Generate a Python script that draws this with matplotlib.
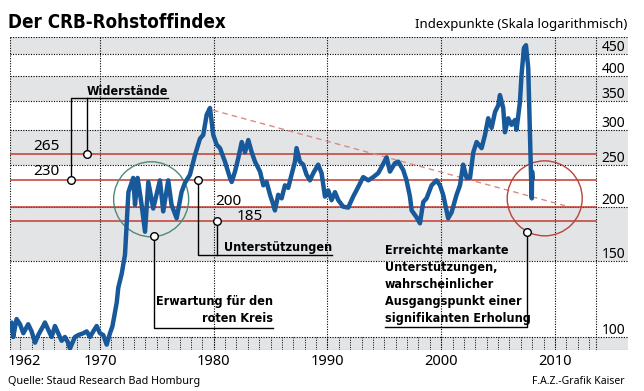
import matplotlib
matplotlib.use("Agg")
import matplotlib.pyplot as plt
import matplotlib.transforms as mtransforms
from matplotlib.patches import Circle

plt.rcParams['font.family'] = ['Noto Sans', 'DejaVu Sans']
plt.rcParams['font.stretch'] = 'condensed'

# CRB-Index (Jahr, Indexpunkte)
jahre = [1962.10, 1962.23, 1962.37, 1962.67, 1962.97, 1963.26, 1963.69, 1963.99,
         1964.29, 1964.57, 1965.01, 1965.16, 1965.45, 1965.75, 1966.04, 1966.33,
         1966.63, 1966.92, 1967.20, 1967.36, 1967.80, 1968.09, 1968.53, 1968.83,
         1969.12, 1969.41, 1969.71, 1970.00, 1970.29, 1970.59, 1970.88, 1971.10,
         1971.47, 1971.61, 1971.91, 1972.20, 1972.35, 1972.50, 1972.92, 1973.08,
         1973.31, 1973.66, 1973.96, 1974.25, 1974.68, 1975.27, 1975.56, 1976.00,
         1976.29, 1976.74, 1977.17, 1977.47, 1977.91, 1978.35, 1978.79, 1979.08,
         1979.38, 1979.67, 1979.96, 1980.26, 1980.55, 1980.99, 1981.43, 1981.58,
         1981.87, 1982.16, 1982.46, 1982.75, 1983.04, 1983.34, 1983.63, 1984.07,
         1984.36, 1984.65, 1984.95, 1985.24, 1985.38, 1985.67, 1985.97, 1986.26,
         1986.55, 1986.84, 1987.14, 1987.28, 1987.58, 1987.87, 1988.16, 1988.46,
         1988.75, 1989.18, 1989.48, 1989.78, 1990.07, 1990.36, 1990.66, 1990.95,
         1991.38, 1991.82, 1992.26, 1992.70, 1993.14, 1993.59, 1994.02, 1994.46,
         1994.76, 1995.20, 1995.49, 1995.93, 1996.22, 1996.66, 1996.95, 1997.25,
         1997.40, 1997.83, 1998.13, 1998.42, 1998.71, 1999.15, 1999.59, 1999.89,
         2000.17, 2000.61, 2000.91, 2001.35, 2001.65, 2001.93, 2002.23, 2002.53,
         2002.82, 2003.11, 2003.55, 2003.85, 2004.13, 2004.43, 2004.73, 2005.02,
         2005.16, 2005.45, 2005.60, 2005.89, 2006.18, 2006.48, 2006.62, 2006.92,
         2007.06, 2007.27, 2007.45, 2007.65, 2007.80, 2007.93, 2007.96, 2007.99,
         2008.03]
crb = [104, 108, 100, 110, 107, 102, 107, 103,
       97, 101, 106, 108, 104, 100, 106, 102,
       98, 100, 97, 94, 100, 101, 102, 103,
       100, 103, 106, 102, 101, 96, 102, 106,
       120, 130, 140, 155, 183, 216, 233, 202,
       233, 202, 175, 228, 198, 230, 195, 230,
       202, 188, 216, 227, 237, 263, 287, 293,
       326, 338, 293, 278, 273, 254, 233, 228,
       241, 259, 282, 267, 285, 267, 254, 241,
       224, 228, 213, 202, 196, 213, 209, 224,
       221, 237, 254, 273, 254, 250, 237, 230,
       239, 250, 239, 211, 218, 207, 216, 207,
       200, 199, 211, 222, 234, 230, 234, 239,
       247, 260, 241, 252, 254, 243, 230, 211,
       196, 189, 183, 205, 209, 224, 230, 224,
       213, 188, 194, 213, 224, 250, 233, 233,
       267, 282, 273, 293, 320, 304, 331, 343,
       362, 338, 297, 320, 309, 317, 301, 349,
       403, 465, 472, 418, 293, 218, 209, 241,
       233]

y_ticks = [100, 150, 200, 250, 300, 350, 400, 450]
x_ticks = [1962, 1970, 1980, 1990, 2000, 2010]
widerstaende = [265, 230]
unterstuetzungen = [200, 185]
trend_x = [1979.93, 2010.88]
trend_y = [334, 201]

blau = '#17599a'
rot = '#c23b2e'
grau = '#e3e4e5'
dot = (0, (1, 1.3))

x0, x_rand, x1 = 1962.09, 2013.6, 2016.42
y0, y1 = 93.3, 493

fs_zahl = 10.5
fett = dict(family=['DejaVu Sans'], fontweight='bold', fontstretch='condensed',
            fontsize=9)

fig = plt.figure(figsize=(6.44, 3.91), dpi=100)
ax = fig.add_axes([10 / 644, 41 / 391, 618 / 644, 313 / 391])
ax.set_yscale('log')
ax.set_xlim(x0, x1)
ax.set_ylim(y0, y1)
ax.axis('off')

# graue Baender
for lo, hi in [(y0, 100), (150, 200), (250, 300), (350, 400), (450, y1)]:
    ax.axhspan(lo, hi, color=grau, lw=0, zorder=0)

# gepunktetes Raster
for v in y_ticks + [y0, y1]:
    ax.axhline(v, color='black', ls=dot, lw=0.8, zorder=1)
for x in [x0, 1970, 1980, 1990, 2000, 2010, x_rand]:
    ax.axvline(x, color='black', ls=dot, lw=0.8, zorder=1)
for j in range(1963, 2014):
    ax.plot([j, j], [y0, 100], color='black', ls=(0, (1, 1.5)), lw=0.7, zorder=1)

# Widerstaende / Unterstuetzungen
for v in widerstaende + unterstuetzungen:
    ax.plot([x0, x_rand], [v, v], color=rot, lw=1.1, zorder=2)
ax.plot(trend_x, trend_y, color='#d98a88', ls=(0, (4, 3)), lw=1.0, zorder=2)

# Kreise (in Pixel-Radius)
for cx, cy, farbe in [(1974.5, 208, '#4d8a78'), (2009.1, 209, '#b8433a')]:
    tr = fig.dpi_scale_trans + mtransforms.ScaledTranslation(cx, cy, ax.transData)
    ax.add_patch(Circle((0, 0), 0.375, transform=tr, fill=False, ec=farbe,
                        lw=1.0, zorder=3))

ax.plot(jahre, crb, color=blau, lw=3.2, solid_joinstyle='round', zorder=4)

# Beschriftungen rechts
off = mtransforms.offset_copy(ax.transData, fig=fig, y=3, units='dots')
for v in y_ticks:
    ax.text(2016.15, v, str(v), ha='right', va='baseline', fontsize=10,
            transform=off, zorder=6)

# Jahre
xt = ax.get_xaxis_transform()
for j in x_ticks:
    if j == 1962:
        ax.text(x0 - 0.2, -0.038, str(j), ha='left', va='center', fontsize=fs_zahl,
                transform=xt)
    else:
        ax.text(j, -0.038, str(j), ha='center', va='center', fontsize=fs_zahl,
                transform=xt)

# Anmerkungen
lk = dict(color='black', lw=1.0, zorder=5)
mk = dict(marker='o', ms=5.5, mfc='white', mec='black', mew=1.0, ls='none', zorder=7)

ax.text(1966.48, 270, '265', ha='right', va='baseline', fontsize=11)
ax.text(1966.48, 237, '230', ha='right', va='baseline', fontsize=11)
ax.text(1980.11, 201.5, '200', ha='left', va='baseline', fontsize=11)
ax.text(1982.04, 186, '185', ha='left', va='baseline', fontsize=11)

ax.plot([1967.45, 1967.45, 1975.98], [230, 356, 356], **lk)
ax.plot([1968.86, 1968.86], [265, 356], **lk)
ax.plot([1967.45, 1968.86], [230, 265], **mk)
ax.text(1975.98, 362, 'Widerstände', ha='right', va='baseline', **fett)

ax.plot([1978.62, 1978.62, 1990.40], [230, 155, 155], **lk)
ax.plot([1980.29, 1980.29], [185, 155], **lk)
ax.plot([1978.62, 1980.29], [230, 185], **mk)
ax.text(1990.40, 158, 'Unterstützungen', ha='right', va='baseline', **fett)

ax.plot([1974.75, 1974.75, 1985.21], [171, 105, 105], **lk)
ax.plot([1974.75], [171], **mk)
ax.text(1985.21, 108, 'Erwartung für den\nroten Kreis', ha='right', va='baseline',
        multialignment='right', linespacing=1.4, **fett)

ax.plot([2007.54, 2007.54, 1995.05], [175, 105.5, 105.5], **lk)
ax.plot([2007.54], [175], **mk)
ax.text(1995.05, 108.5, 'Erreichte markante\nUnterstützungen,\nwahrscheinlicher\n'
        'Ausgangspunkt einer\nsignifikanten Erholung', ha='left', va='baseline',
        linespacing=1.4, **fett)

# Titel und Fusszeile
fig.text(8 / 644, 1 - 28 / 391, 'Der CRB-Rohstoffindex', ha='left', va='baseline',
         family=['DejaVu Sans'], fontweight='bold', fontstretch='condensed',
         fontsize=13.5)
fig.text(627 / 644, 1 - 28 / 391, 'Indexpunkte (Skala logarithmisch)', ha='right',
         va='baseline', fontsize=9.5)
fig.text(8 / 644, 1 - 384 / 391, 'Quelle: Staud Research Bad Homburg', ha='left',
         va='baseline', fontsize=7.8)
fig.text(625 / 644, 1 - 384 / 391, 'F.A.Z.-Grafik Kaiser', ha='right',
         va='baseline', fontsize=7.5)

fig.savefig('out.png', dpi=100)
